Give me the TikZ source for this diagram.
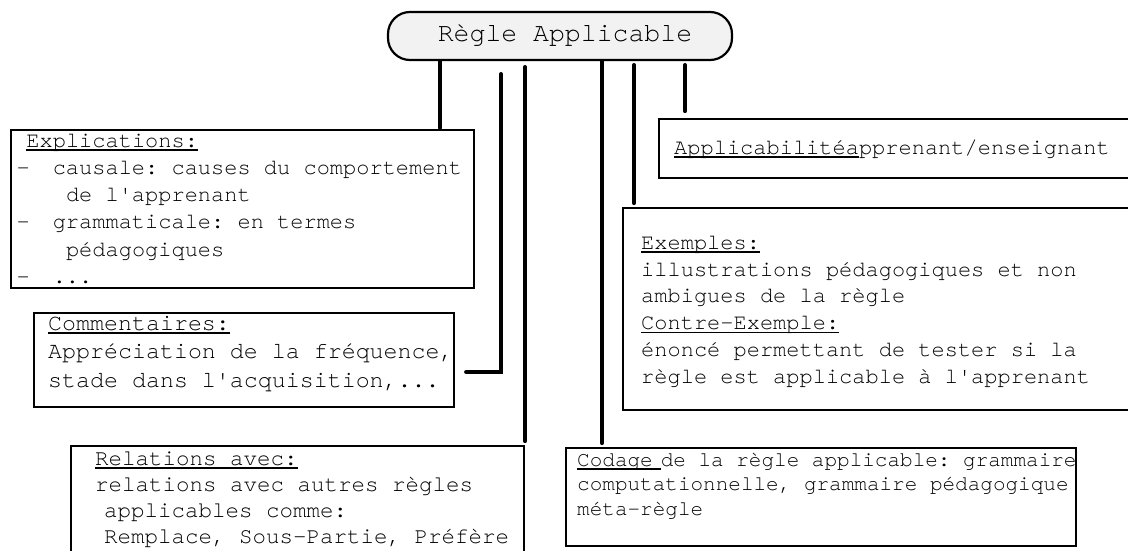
\documentclass[tikz,border=0pt]{standalone}
\usepackage{fontspec}
\setmonofont{texgyrecursor}[Extension=.otf, UprightFont=*-regular]
\newcommand\ulx[1]{\setbox0\hbox{#1}\rlap{\rule[-3.6pt]{\wd0}{1.5pt}}\box0}
\newcommand\dsh{\kern3.5pt-\kern-3.5pt}
\begin{document}
\begin{tikzpicture}[x=1pt,y=-1pt,
  mainbox/.style={draw, line width=2.2pt, fill=gray!10, rounded corners=22pt,
    minimum width=344pt, minimum height=48pt, inner sep=0pt,
    text height=18pt, text depth=6pt,
    font=\ttfamily\fontsize{26.5}{30}\selectfont},
  box/.style={draw, line width=2.2pt, fill=white, anchor=north west, inner sep=0pt},
  conn/.style={line width=4.2pt, line cap=round},
  txt/.style={inner sep=0pt, anchor=north west, align=left}]
\useasboundingbox (0,0) rectangle (1128,551);
\clip (0,0) rectangle (1128,551);

% main node
\node[mainbox] (main) at (560,36) {\hspace*{10pt}Règle Applicable};

% boxes
\node[box, minimum width=463pt, minimum height=158pt] (expl) at (10,129) {};
\node[box, minimum width=420pt, minimum height=94pt]  (comm) at (33,312) {};
\node[box, minimum width=453pt, minimum height=130pt] (rel)  at (70,445) {};
\node[box, minimum width=510pt, minimum height=98pt]  (cod)  at (565,447) {};
\node[box, minimum width=530pt, minimum height=202pt] (ex)   at (622,207) {};
\node[box, minimum width=490pt, minimum height=59pt]  (appl) at (658,118) {};

% texts
\node[txt, font=\ttfamily\fontsize{22}{27.2}\selectfont] (explT) at (13,127.96)
 {\strut\hphantom{x}\ulx{Explications:}\\
  \dsh\hphantom{xx}causale: causes du comportement\\
  \hphantom{xxxx}de l'apprenant\\
  \dsh\hphantom{xx}grammaticale: en termes\\
  \hphantom{xxxx}pédagogiques\\
  \dsh\hphantom{xx}...};
\node[txt, font=\ttfamily\fontsize{23.3}{28.5}\selectfont] (commT) at (48,310.05)
 {\strut\ulx{Commentaires:}\\
  Appréciation de la fréquence,\\
  stade dans l'acquisition,...};
\node[txt, font=\ttfamily\fontsize{22.5}{26}\selectfont] (relT) at (95,446.8)
 {\strut\ulx{Relations avec:}\\
  relations avec autres règles\\
  \hspace*{9pt}applicables comme:\\
  \hspace*{9pt}Remplace, Sous-Partie, Préfère};
\node[txt, font=\ttfamily\fontsize{21}{24.5}\selectfont] (codT) at (577,448.85)
 {\strut\ulx{Codage\kern8pt}de la règle applicable: grammaire\\
  computationnelle, grammaire pédagogique\\
  méta-règle};
\node[txt, font=\ttfamily\fontsize{22}{26.8}\selectfont] (exT) at (641,230.24)
 {\strut\ulx{Exemples:}\\
  illustrations pédagogiques et non\\
  ambigues de la règle\\
  \ulx{Contre-Exemple:}\\
  énoncé permettant de tester si la\\
  règle est applicable à l'apprenant};
\node[txt, anchor=base west, font=\ttfamily\fontsize{22}{26.8}\selectfont] (applT) at (674,154)
 {\ulx{Applicabilité\ }\kern-13.2pt apprenant/enseignant};

% connectors
\coordinate (k1) at (440,0);
\coordinate (k2) at (501,372);
\coordinate (k3) at (525,0);
\coordinate (k4) at (602,0);
\coordinate (k5) at (634,0);
\coordinate (k6) at (685,0);
\draw[conn, shorten >=1pt] (main.south -| k1) -- (expl.north -| k1);
\draw[conn, shorten <=13pt, shorten >=11pt] (main.south -| k2) -- (k2) -- (comm.east |- k2);
\draw[conn, shorten <=6pt, shorten >=4pt] (main.south -| k3) -- (rel.north -| k3);
\draw[conn, shorten >=4pt] (main.south -| k4) -- (cod.north -| k4);
\draw[conn, shorten <=4pt, shorten >=4pt] (main.south -| k5) -- (ex.north -| k5);
\draw[conn, shorten <=4pt, shorten >=7pt] (main.south -| k6) -- (appl.north -| k6);
\end{tikzpicture}
\end{document}
